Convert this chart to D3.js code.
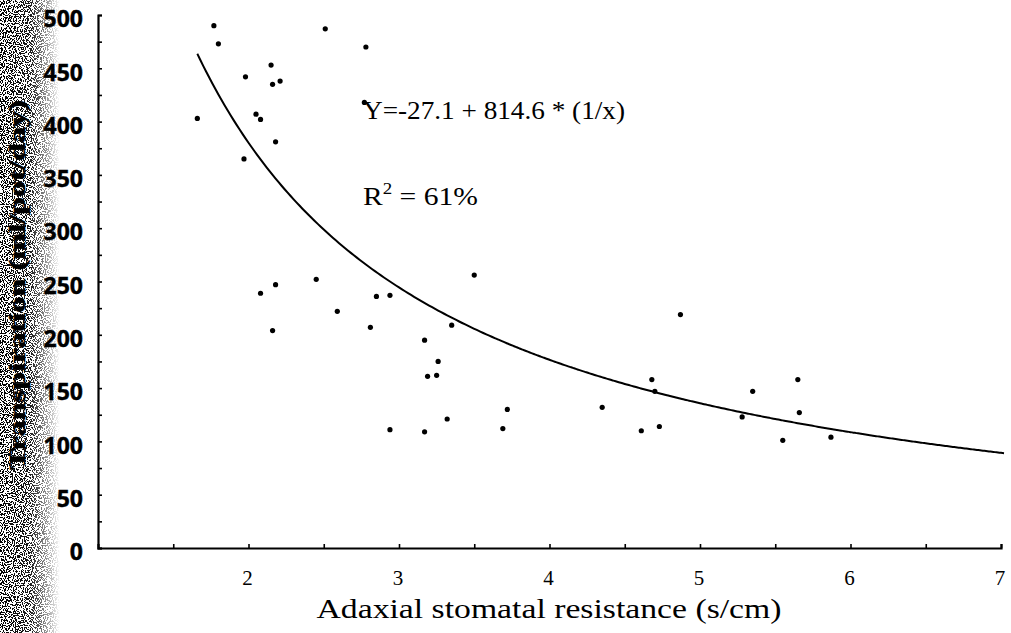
<!DOCTYPE html>
<html>
<head>
<meta charset="utf-8">
<script src="https://cdn.jsdelivr.net/npm/d3@7.9.0/dist/d3.min.js"></script>
<style>
  body { margin: 0; background: #fff; }
  svg { display: block; }
</style>
</head>
<body>
<div id="chart"></div>
<script>
// data
const resistance = [
  1.77, 1.80, 2.51, 2.78, 2.15, 1.98, 2.16, 2.21, 2.77, 1.66, 2.05, 2.08, 2.18, 1.97,
  3.50, 2.45, 2.18, 2.08, 2.85, 2.94, 2.59, 2.81, 2.16, 3.35, 3.17, 3.26, 3.19, 3.25,
  3.72, 3.32, 2.94, 3.17, 3.69, 4.68, 4.70, 4.35, 4.61, 4.73, 5.35, 5.65, 5.66, 5.28,
  5.55, 5.87, 4.87
];
const transpiration = [
  490, 473, 487, 470, 453, 442, 435, 438, 418, 403, 407, 402, 381, 365,
  256, 252, 247, 239, 236, 237, 222, 207, 204, 209, 195, 175, 161, 162,
  130, 121, 111, 109, 112, 158, 147, 132, 110, 114, 147, 158, 127, 123,
  101, 104, 219
];
const xTicks = [2, 3, 4, 5, 6, 7];
const yTicks = [0, 50, 100, 150, 200, 250, 300, 350, 400, 450, 500];
// fitted model shown on the plot: Y = a + b * (1/x)
const fitIntercept = -27.1;
const fitSlope = 814.6;
const fitRange = [1.66, 7.02];

const width = 1011, height = 633;
const svg = d3.select("#chart").append("svg")
  .attr("width", width)
  .attr("height", height);

const x = d3.scaleLinear().domain([1, 7]).range([98, 1001]);
const y = d3.scaleLinear().domain([0, 500]).range([548, 15]);

// scan noise along the left edge
const defs = svg.append("defs");
const noise = defs.append("filter").attr("id", "speckle")
  .attr("filterUnits", "userSpaceOnUse")
  .attr("x", 0).attr("y", 0).attr("width", 60).attr("height", height);
noise.append("feTurbulence").attr("type", "fractalNoise")
  .attr("baseFrequency", 0.9).attr("numOctaves", 1).attr("seed", 3);
noise.append("feColorMatrix").attr("type", "matrix")
  .attr("values", "0 0 0 0 0  0 0 0 0 0  0 0 0 0 0  3 0 0 0 -1.05");
noise.append("feComponentTransfer")
  .append("feFuncA").attr("type", "discrete").attr("tableValues", "0 1");
const grad = defs.append("linearGradient").attr("id", "fade");
grad.append("stop").attr("offset", "0").attr("stop-color", "#fff").attr("stop-opacity", 1);
grad.append("stop").attr("offset", "0.5").attr("stop-color", "#fff").attr("stop-opacity", 0.9);
grad.append("stop").attr("offset", "1").attr("stop-color", "#fff").attr("stop-opacity", 0);
defs.append("mask").attr("id", "edgeMask")
  .attr("maskUnits", "userSpaceOnUse")
  .attr("x", 0).attr("y", 0).attr("width", 60).attr("height", height)
  .append("rect").attr("x", 0).attr("y", 0).attr("width", 60).attr("height", height)
  .attr("fill", "url(#fade)");
svg.append("g").attr("mask", "url(#edgeMask)")
  .append("rect").attr("x", 0).attr("y", 0).attr("width", 60).attr("height", height)
  .attr("fill", "#000").attr("filter", "url(#speckle)");

// axes
const yAxis = svg.append("g").attr("transform", `translate(${x(1)},0)`)
  .call(d3.axisRight(y).tickValues(d3.range(0, 501, 25)).tickSize(4).tickFormat(""));
const xAxis = svg.append("g").attr("transform", `translate(0,${y(0)})`)
  .call(d3.axisTop(x).tickValues(d3.range(1.5, 7.01, 0.5)).tickSize(4).tickFormat(""));
[yAxis, xAxis].forEach(g => {
  g.select(".domain").attr("stroke", "#000").attr("stroke-width", 2.2);
  g.selectAll(".tick line").attr("stroke", "#000").attr("stroke-width", 1.6);
});

svg.append("g").selectAll("text")
  .data(yTicks)
  .enter().append("text")
  .attr("x", 83)
  .attr("y", d => y(d) + 4)
  .attr("dy", "0.36em")
  .attr("text-anchor", "end")
  .attr("fill", "#000")
  .attr("stroke", "#000")
  .attr("stroke-width", 0.4)
  .attr("font-family", "'Open Sans', sans-serif")
  .attr("font-weight", "bold")
  .attr("font-size", 23)
  .text(d => d);

svg.append("g").selectAll("text")
  .data(xTicks)
  .enter().append("text")
  .attr("x", d => x(d) - 1)
  .attr("y", 585)
  .attr("text-anchor", "middle")
  .attr("fill", "#000")
  .attr("font-family", "'Liberation Serif', serif")
  .attr("font-size", 21)
  .text(d => d);

svg.append("text")
  .attr("x", 549)
  .attr("y", 618)
  .attr("text-anchor", "middle")
  .attr("fill", "#000")
  .attr("font-family", "'Liberation Serif', serif")
  .attr("font-size", 27)
  .attr("textLength", 465)
  .attr("lengthAdjust", "spacingAndGlyphs")
  .text("Adaxial stomatal resistance (s/cm)");

svg.append("text")
  .attr("transform", "translate(25,285) rotate(-90)")
  .attr("text-anchor", "middle")
  .attr("fill", "#000")
  .attr("stroke", "#000")
  .attr("stroke-width", 0.5)
  .attr("font-family", "'Liberation Serif', serif")
  .attr("font-weight", "bold")
  .attr("font-size", 23)
  .attr("textLength", 370)
  .attr("lengthAdjust", "spacingAndGlyphs")
  .text("Transpiration (ml/pot/day)");

// fitted curve
const fitXs = d3.range(fitRange[0], fitRange[1], 0.02).concat([fitRange[1]]);
const fitLine = d3.line()
  .x(d => x(d))
  .y(d => y(fitIntercept + fitSlope / d))
  .curve(d3.curveMonotoneX);
svg.append("path")
  .datum(fitXs)
  .attr("d", fitLine)
  .attr("fill", "none")
  .attr("stroke", "#000")
  .attr("stroke-width", 2);

// observations
svg.append("g").selectAll("circle")
  .data(resistance.map((r, i) => [r, transpiration[i]]))
  .enter().append("circle")
  .attr("cx", d => x(d[0]))
  .attr("cy", d => y(d[1]))
  .attr("r", 2.6)
  .attr("fill", "#000");

// equation text
svg.append("text")
  .attr("x", 363)
  .attr("y", 119)
  .attr("fill", "#000")
  .attr("font-family", "'Liberation Serif', serif")
  .attr("font-size", 25)
  .attr("textLength", 262)
  .attr("lengthAdjust", "spacingAndGlyphs")
  .text("Y=-27.1 + 814.6 * (1/x)");

const r2 = svg.append("text")
  .attr("x", 363)
  .attr("y", 205)
  .attr("fill", "#000")
  .attr("font-family", "'Liberation Serif', serif")
  .attr("font-size", 25)
  .attr("textLength", 115)
  .attr("lengthAdjust", "spacingAndGlyphs");
r2.append("tspan").text("R");
r2.append("tspan").attr("dy", -11).attr("font-size", 16).text("2");
r2.append("tspan").attr("dy", 11).text(" = 61%");
</script>
</body>
</html>
